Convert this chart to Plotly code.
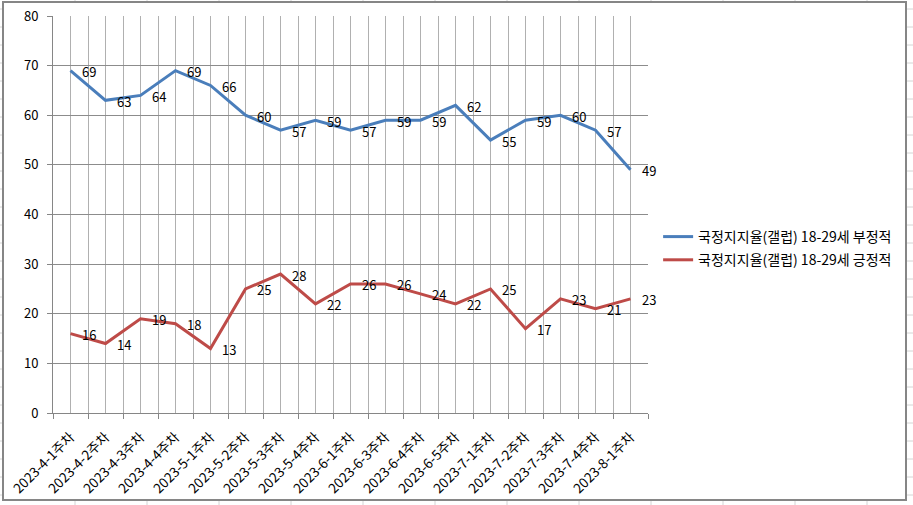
import plotly.graph_objects as go

categories = ["2023-4-1주차", "2023-4-2주차", "2023-4-3주차", "2023-4-4주차", "2023-5-1주차",
              "2023-5-2주차", "2023-5-3주차", "2023-5-4주차", "2023-6-1주차", "2023-6-3주차",
              "2023-6-4주차", "2023-6-5주차", "2023-7-1주차", "2023-7-2주차", "2023-7-3주차",
              "2023-7-4주차", "2023-8-1주차"]
negative = [69, 63, 64, 69, 66, 60, 57, 59, 57, 59, 59, 62, 55, 59, 60, 57, 49]
positive = [16, 14, 19, 18, 13, 25, 28, 22, 26, 26, 24, 22, 25, 17, 23, 21, 23]
name_neg = "국정지지율(갤럽) 18-29세 부정적"
name_pos = "국정지지율(갤럽) 18-29세 긍정적"
y_ticks = [0, 10, 20, 30, 40, 50, 60, 70, 80]

FONT = "Malgun Gothic, Noto Sans CJK KR, sans-serif"
W, H = 913, 505
ML, MR, MT, MB = 53, 265, 16, 92
PW, PH = W - ML - MR, H - MT - MB

def px(x):
    return (x - ML) / PW

def py(y):
    return (H - MB - y) / PH

n = len(categories)
xs = list(range(n))

fig = go.Figure()
fig.add_trace(go.Scatter(x=xs, y=negative, mode="lines", name=name_neg,
                         line=dict(color="#4A7EBB", width=3), legendgroup="a"))
fig.add_trace(go.Scatter(x=xs, y=positive, mode="lines", name=name_pos,
                         line=dict(color="#BE4B48", width=3), legendgroup="b"))

annotations = []
for series in (negative, positive):
    for i, v in enumerate(series):
        annotations.append(dict(x=i, y=v, xref="x", yref="y", text=str(v), showarrow=False,
                                xanchor="left", yanchor="middle", xshift=9, yshift=-1,
                                font=dict(family=FONT, size=13, color="#000000")))

shapes = []
# spreadsheet background lines outside the chart
for k in range(13):
    xv = 75 + 72 * k
    for (ya, yb) in ((0, 2), (500, 505)):
        shapes.append(dict(type="line", xref="paper", yref="paper", x0=px(xv), x1=px(xv),
                           y0=py(ya), y1=py(yb), line=dict(color="#d4d4d4", width=1), layer="below"))
for k in range(28):
    yv = 9 + 18 * k
    for (xa, xb) in ((0, 3), (906, 913)):
        shapes.append(dict(type="line", xref="paper", yref="paper", x0=px(xa), x1=px(xb),
                           y0=py(yv), y1=py(yv), line=dict(color="#d4d4d4", width=1), layer="below"))
# chart border
shapes.append(dict(type="rect", xref="paper", yref="paper", x0=px(3), x1=px(906),
                   y0=py(500), y1=py(2), line=dict(color="#868686", width=2), layer="below"))

fig.update_layout(
    width=W, height=H,
    margin=dict(l=ML, r=MR, t=MT, b=MB, pad=0, autoexpand=False),
    paper_bgcolor="white", plot_bgcolor="white",
    font=dict(family=FONT, size=13, color="#000000"),
    showlegend=True,
    legend=dict(x=1.017, y=py(248.5), xanchor="left", yanchor="middle",
                font=dict(family=FONT, size=14, color="#000000"),
                traceorder="grouped", tracegroupgap=2, bgcolor="rgba(0,0,0,0)"),
    annotations=annotations,
    shapes=shapes,
)
fig.update_xaxes(
    range=[-0.5, n - 0.5], tickmode="array", tickvals=xs, ticktext=categories,
    tickangle=-45, ticks="", showgrid=True, gridcolor="#b0b0b0", gridwidth=1,
    showline=True, linecolor="#868686", linewidth=1, zeroline=False,
    ticklabelstandoff=10, automargin=False,
    tickfont=dict(family=FONT, size=13.5, color="#000000"),
    minor=dict(tickmode="array", tickvals=[i - 0.5 for i in range(n + 1)],
               showgrid=True, gridcolor="#b0b0b0", gridwidth=1,
               ticks="outside", ticklen=5, tickcolor="#868686"),
)
fig.update_yaxes(
    range=[0, 80], tickmode="array", tickvals=y_ticks, ticks="outside", ticklen=5,
    tickcolor="#868686", showgrid=True, gridcolor="#8c8c8c", gridwidth=1,
    showline=True, linecolor="#868686", linewidth=1, zeroline=False,
    ticklabelstandoff=6, automargin=False,
    tickfont=dict(family=FONT, size=13, color="#000000"),
)

fig.write_html("out.html")
